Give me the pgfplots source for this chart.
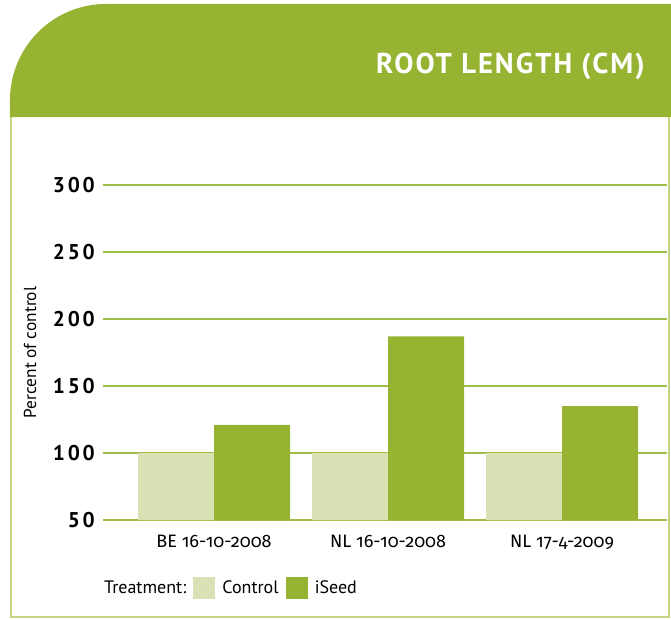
\documentclass[border=0pt]{standalone}
\usepackage{pgfplots}
\pgfplotsset{compat=1.18}
\usepackage{fontspec}
\setmainfont{PT Sans}
\newfontfamily\titlefont[LetterSpace=7]{PT Sans}
\newfontfamily\tickfont[LetterSpace=13]{PT Sans}
\newfontfamily\xfont[Numbers=OldStyle]{Fira Sans}
\definecolor{hdr}{RGB}{150,180,50}
\definecolor{ctl}{RGB}{216,226,180}
\definecolor{grd}{RGB}{160,190,70}
\definecolor{brd}{RGB}{195,214,135}
\begin{document}
\begin{tikzpicture}[x=0.75pt,y=0.75pt]
% pixel mapping: X = px - 103, Y = 520 - py
\path[use as bounding box] (-103,520) rectangle (568,-99);
\fill[hdr] (-93,403) [rounded corners=72pt] -- (-93,516) [sharp corners] -- (568,516) -- (568,403) -- cycle;
\draw[brd, line width=1.4pt] (-92,403) -- (-92,-97) -- (566,-97) -- (566,403);
\node[anchor=east, text=white, inner sep=0pt] at (542,454) {\fontsize{21.5}{24}\titlefont\bfseries ROOT LENGTH (CM)};
\begin{axis}[
  at={(0,0)}, anchor=south west,
  scale only axis, width=423pt, height=251.25pt,
  ybar=0pt, bar width=57pt,
  xmin=-0.638, xmax=2.603, ymin=50, ymax=300,
  xtick=data, xticklabels={BE 16-10-2008, NL 16-10-2008, NL 17-4-2009},
  ytick={50,100,...,300},
  axis line style={draw=none},
  major tick length=0pt,
  ymajorgrids, grid style={grd, line width=1.1pt},
  /pgf/number format/assume math mode=true,
  y tick label style={font=\fontsize{16}{18}\tickfont\bfseries, anchor=east, inner sep=0pt, xshift=-6pt},
  x tick label style={font=\fontsize{13.5}{15}\xfont, anchor=north, inner sep=0pt, yshift=-11pt},
  ylabel={Percent of control},
  every axis y label/.style={at={(axis description cs:-0.1294,0.5)}, rotate=90, anchor=center, font=\fontsize{13}{15}\selectfont},
  legend columns=3,
  legend style={at={(axis description cs:0,0)}, anchor=west, yshift=-51pt, xshift=-4.6pt,
    draw=none, fill=none, inner sep=0pt, column sep=0pt,
    font=\fontsize{13.5}{16}\selectfont,
    nodes={inner xsep=5.3pt}},
]
\addlegendimage{empty legend}
\addlegendentry{Treatment:}
\addplot[fill=ctl, draw=none, legend image code/.code={\fill[ctl] (0pt,-8.25pt) rectangle (16.5pt,8.25pt);}]
  coordinates {(0,100) (1,100) (2,100)};
\addlegendentry{Control}
\addplot[fill=hdr, draw=none, legend image code/.code={\fill[hdr] (0pt,-8.25pt) rectangle (16.5pt,8.25pt);}]
  coordinates {(0,121) (1,187) (2,135)};
\addlegendentry{iSeed}
\end{axis}
\end{tikzpicture}
\end{document}
